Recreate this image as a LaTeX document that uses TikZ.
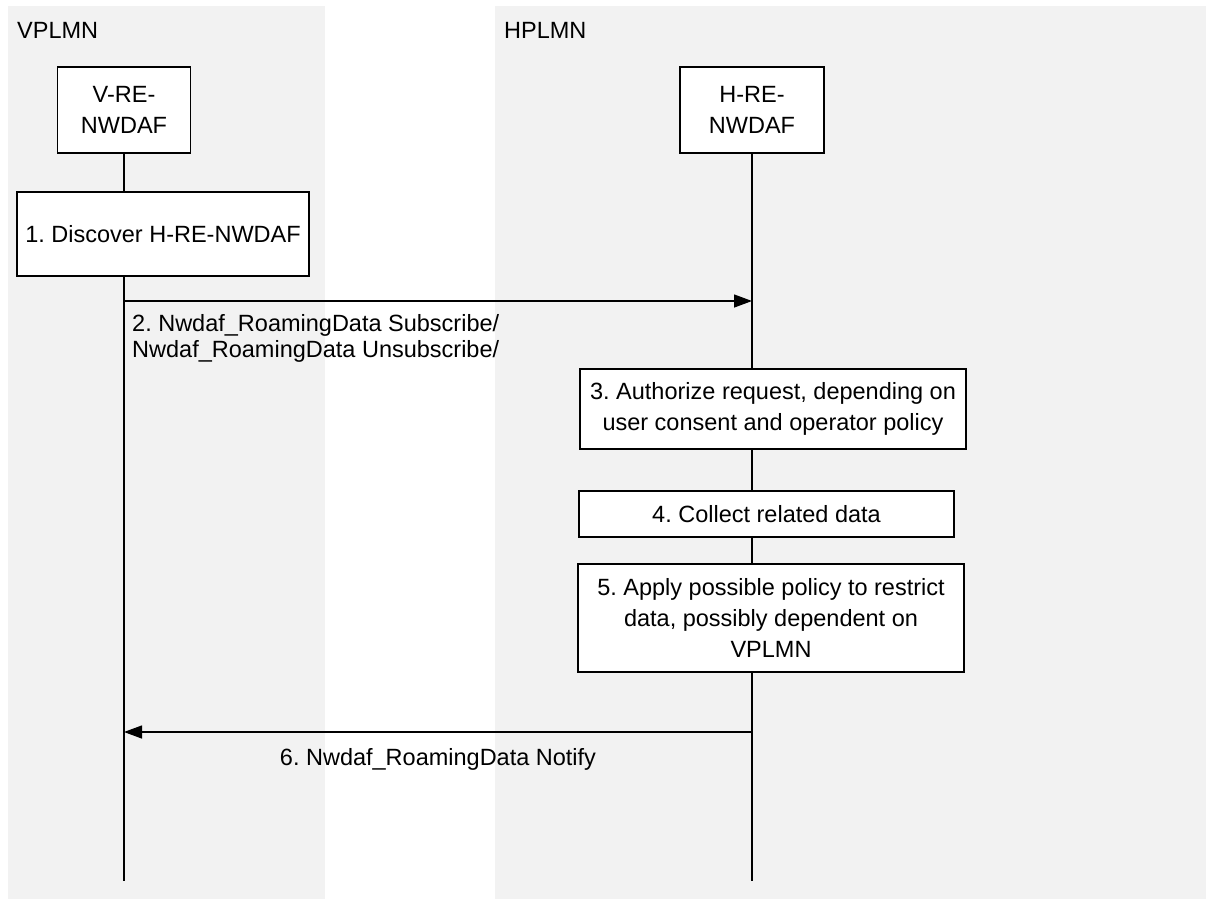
\documentclass[tikz,border=0pt]{standalone}
\usepackage{fontspec}
\setmainfont{Liberation Sans}
\usetikzlibrary{arrows.meta}
\definecolor{bg}{RGB}{242,242,242}
\frenchspacing
\tikzset{
  zone/.style={fill=bg, draw=none},
  boxtxt/.style={draw=black, line width=1.3pt, fill=white, align=center, inner sep=0pt,
    font=\fontsize{23.5}{30.8}\selectfont\frenchspacing},
  lbl/.style={inner sep=0pt, font=\fontsize{23.5}{26.5}\selectfont\frenchspacing},
  life/.style={line width=1.3pt},
  msg/.style={line width=1.3pt, -{Triangle[length=18pt,width=13pt]}}
}
\begin{document}
\begin{tikzpicture}[x=1pt,y=-1pt]
\useasboundingbox (0,0) rectangle (1206,899);
% zones
\fill[zone] (8,6) rectangle (325,899);
\fill[zone] (495,6) rectangle (1206,899);
\node[lbl, anchor=base west] (vplmn) at (17,38) {VPLMN};
\node[lbl, anchor=base west] (hplmn) at (504,38) {HPLMN};
% entities
\node[boxtxt, minimum width=133pt, minimum height=86pt] (vbox) at (124,110) {V-RE-\\NWDAF};
\node[boxtxt, minimum width=144pt, minimum height=86pt] (hbox) at (752,110) {H-RE-\\NWDAF};
% steps
\node[boxtxt, minimum width=292pt, minimum height=84pt] (b1) at (163,234) {1. Discover H-RE-NWDAF};
\node[boxtxt, minimum width=386pt, minimum height=80pt] (b3) at (773,409) {3. Authorize request, depending on\\user consent and operator policy};
\node[boxtxt, minimum width=375pt, minimum height=46pt] (b4) at (766.5,514) {4. Collect related data};
\node[boxtxt, minimum width=386pt, minimum height=108pt] (b5) at (771,618) {5. Apply possible policy to restrict\\data, possibly dependent on\\VPLMN};
% coordinates
\coordinate (vend) at (124,881);
\coordinate (hend) at (752,881);
\coordinate (m2s) at (124,301);
\coordinate (m2e) at (752,301);
\coordinate (m6s) at (752,732);
\coordinate (m6e) at (124,732);
% lifelines
\draw[life] (vbox.south) -- (vbox.south |- b1.north);
\draw[life] (vbox.south |- b1.south) -- (vend);
\draw[life] (hbox.south) -- (hbox.south |- b3.north);
\draw[life] (hbox.south |- b3.south) -- (hbox.south |- b4.north);
\draw[life] (hbox.south |- b4.south) -- (hbox.south |- b5.north);
\draw[life] (hbox.south |- b5.south) -- (hend);
% messages
\draw[msg] (m2s) -- (m2e);
\node[lbl, anchor=north west, align=left] (l2) at (132,314) {2. Nwdaf\_RoamingData Subscribe/\\Nwdaf\_RoamingData Unsubscribe/};
\draw[msg] (m6s) -- (m6e);
\node[lbl, anchor=base] (l6) at (438,765) {6. Nwdaf\_RoamingData Notify};
\end{tikzpicture}
\end{document}
